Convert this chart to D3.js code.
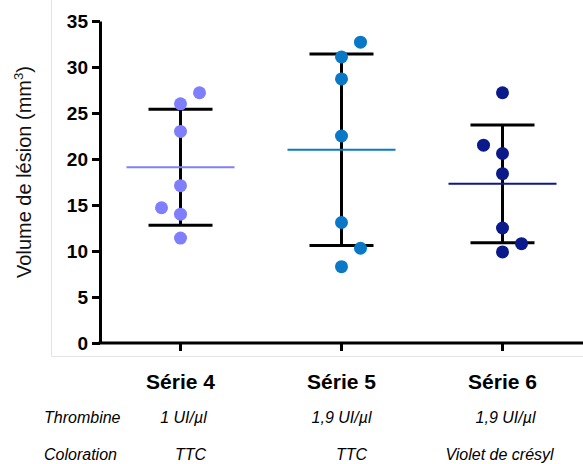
<!DOCTYPE html>
<html><head><meta charset="utf-8">
<script src="https://cdn.jsdelivr.net/npm/d3@7"></script>
<style>
html,body{margin:0;padding:0;background:#fff;}
svg{display:block;font-family:"Liberation Sans",Arial,sans-serif;}
</style></head>
<body>
<svg id="chart" width="583" height="464"></svg>
<script>
// ---- data ----
const categories = ["Série 4", "Série 5", "Série 6"];
const thrombine = ["1 UI/µl", "1,9 UI/µl", "1,9 UI/µl"];
const coloration = ["TTC", "TTC", "Violet de crésyl"];
const serie4 = [27.2, 26.0, 23.0, 17.1, 14.7, 14.0, 11.4];
const serie5 = [32.7, 31.1, 28.7, 22.5, 13.1, 10.3, 8.3];
const serie6 = [27.2, 21.5, 20.6, 18.4, 12.5, 10.8, 9.9];
const side4 = [1, 0, 0, 0, -1, 0, 0];
const side5 = [1, 0, 0, 0, 0, 1, 0];
const side6 = [0, -1, 0, 0, 0, 1, 0];
const means = [19.1, 21.0, 17.3];
const sds = [6.3, 10.4, 6.4];
const yTicks = [0, 5, 10, 15, 20, 25, 30, 35];
const colors = ["#7f7ffb", "#0a78c6", "#0b1a8a"];

const seriesValues = [serie4, serie5, serie6];
const seriesSides = [side4, side5, side6];

const svg = d3.select("#chart");

// light frame
svg.append("rect").attr("x", 51.5).attr("y", -2).attr("width", 600).attr("height", 358.5)
  .attr("fill", "none").attr("stroke", "#e3e3e3").attr("stroke-width", 1);

const y = d3.scaleLinear().domain([0, 35]).range([343, 21]);
const x = d3.scaleBand().domain(categories).range([100, 583]).paddingInner(0).paddingOuter(0);
const cx = c => x(c) + x.bandwidth() / 2;

// y axis
const yAxis = svg.append("g").attr("transform", "translate(100,0)")
  .call(d3.axisLeft(y).tickValues(yTicks).tickSize(8).tickSizeOuter(0).tickPadding(4));
yAxis.select(".domain").attr("stroke", "#000").attr("stroke-width", 3);
yAxis.selectAll(".tick line").attr("stroke", "#000").attr("stroke-width", 3);
yAxis.selectAll(".tick text").attr("font-size", 19).attr("font-weight", "bold")
  .attr("font-family", "Liberation Sans, Arial, sans-serif").attr("fill", "#000");

// x axis
const xAxis = svg.append("g").attr("transform", "translate(0,343)")
  .call(d3.axisBottom(x).tickSize(8).tickSizeOuter(0).tickFormat(""));
xAxis.select(".domain").attr("stroke", "#000").attr("stroke-width", 3)
  .attr("d", "M98.5,0H583");
xAxis.selectAll(".tick line").attr("stroke", "#000").attr("stroke-width", 3);

// category labels
svg.append("g").selectAll("text").data(categories).join("text")
  .attr("x", d => cx(d)).attr("y", 389).attr("text-anchor", "middle")
  .attr("font-size", 21).attr("font-weight", "bold").text(d => d);

// y title
svg.append("text").attr("transform", "translate(31,172) rotate(-90)")
  .attr("text-anchor", "middle").attr("font-size", 20).attr("fill", "#111")
  .html('Volume de lésion (mm<tspan font-size="13" dy="-8">3</tspan><tspan dy="8">)</tspan>');

// Thrombine / Coloration rows
const rowY = [423, 460];
svg.append("text").attr("x", 44).attr("y", rowY[0]).attr("font-size", 16).attr("font-style", "italic").text("Thrombine");
svg.append("text").attr("x", 44).attr("y", rowY[1]).attr("font-size", 16).attr("font-style", "italic").text("Coloration");
const thrOffsets = [3, 0, 3];
const colOffsets = [10, 10, -3];
svg.append("g").selectAll("text").data(thrombine).join("text")
  .attr("x", (d, i) => cx(categories[i]) + thrOffsets[i]).attr("y", rowY[0])
  .attr("text-anchor", "middle").attr("font-size", 16).attr("font-style", "italic").text(d => d);
svg.append("g").selectAll("text").data(coloration).join("text")
  .attr("x", (d, i) => cx(categories[i]) + colOffsets[i]).attr("y", rowY[1])
  .attr("text-anchor", "middle").attr("font-size", 16).attr("font-style", "italic").text(d => d);

// per series
categories.forEach((c, i) => {
  const g = svg.append("g");
  const xc = cx(c);
  const hi = means[i] + sds[i], lo = means[i] - sds[i];
  // error bar
  g.append("line").attr("x1", xc).attr("x2", xc).attr("y1", y(hi)).attr("y2", y(lo))
    .attr("stroke", "#000").attr("stroke-width", 3);
  [hi, lo].forEach(v => g.append("line").attr("x1", xc - 32).attr("x2", xc + 32)
    .attr("y1", y(v)).attr("y2", y(v)).attr("stroke", "#000").attr("stroke-width", 3));
  // mean
  g.append("line").attr("x1", xc - 54).attr("x2", xc + 54).attr("y1", y(means[i])).attr("y2", y(means[i]))
    .attr("stroke", colors[i]).attr("stroke-width", 2);
  // dots on top
  g.selectAll("circle").data(seriesValues[i]).join("circle")
    .attr("cx", (d, j) => xc + seriesSides[i][j] * 19)
    .attr("cy", d => y(d)).attr("r", 6.5).attr("fill", colors[i]);
});
</script>
</body></html>
